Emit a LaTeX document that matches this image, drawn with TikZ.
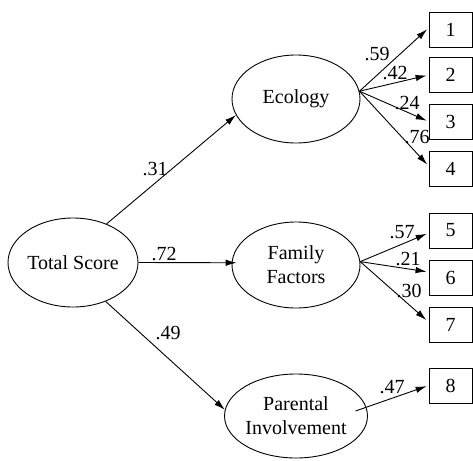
\documentclass[tikz,border=0pt]{standalone}
\usepackage{fontspec}
\setmainfont{Liberation Serif}
\usetikzlibrary{arrows.meta,shapes.geometric}
\begin{document}
\begin{tikzpicture}[x=1pt,y=-1pt,
  txt/.style={font=\fontsize{20}{24}\selectfont},
  latent/.style={ellipse,draw,line width=0.9pt,inner sep=0pt,txt,align=center},
  obs/.style={rectangle,draw,line width=0.9pt,minimum width=43pt,minimum height=35pt,inner sep=0pt,txt},
  lbl/.style={inner sep=0pt,txt},
  arr/.style={line width=0.9pt,-{Latex[length=11pt,width=6.5pt]}}]
\useasboundingbox (0,0) rectangle (473,460);
% latent variables
\node[latent,minimum width=130pt,minimum height=89pt] (T) at (73,262.5) {\raisebox{-2pt}{Total Score}};
\node[latent,minimum width=128pt,minimum height=88pt] (E) at (296,99) {Ecology};
\node[latent,minimum width=128pt,minimum height=86pt] (F) at (296,265) {Family\\Factors};
\node[latent,minimum width=128pt,minimum height=84pt] (P) at (296,416) {Parental\\Involvement};
% observed
\node[obs] (b1) at (450.5,29.5) {1};
\node[obs] (b2) at (450.5,75) {2};
\node[obs] (b3) at (450.5,121.5) {3};
\node[obs] (b4) at (450.5,168.5) {4};
\node[obs] (b5) at (450.5,230.5) {5};
\node[obs] (b6) at (450.5,277.5) {6};
\node[obs] (b7) at (450.5,324.5) {7};
\node[obs] (b8) at (450.5,385.5) {8};
% structural paths
\draw[arr] (T.49) -- (E.195);
\draw[arr,shorten >=-5pt] (T.east) -- (F.178);
\draw[arr] (T.-50) -- (P.175);
% loadings
\draw[arr,shorten >=2pt] (E.7) -- ([yshift=1.5pt]b1.west);
\draw[arr,shorten >=2pt] (E.7) -- (b2.west);
\draw[arr,shorten >=2pt] (E.7) -- (b3.west);
\draw[arr,shorten >=2pt] (E.7) -- ([yshift=2.5pt]b4.west);
\draw[arr,shorten >=2pt] (F.3) -- ([yshift=-2.5pt]b5.west);
\draw[arr,shorten >=2pt] (F.3) -- ([yshift=5.5pt]b6.west);
\draw[arr,shorten >=3pt] (F.3) -- ([yshift=2.5pt]b7.west);
\draw[arr,shorten >=2pt] ([xshift=-12pt]P.4) -- (b8.west);
% coefficients
\node[lbl] (l31) at (155,169) {.31};
\node[lbl] (l72) at (164,254) {.72};
\node[lbl] (l49) at (168,333) {.49};
\node[lbl] (l59) at (377,54) {.59};
\node[lbl] (l42) at (395,73) {.42};
\node[lbl] (l24) at (407,103) {.24};
\node[lbl] (l76) at (417,137) {.76};
\node[lbl] (l57) at (402,232) {.57};
\node[lbl] (l21) at (408,259) {.21};
\node[lbl] (l30) at (409,291) {.30};
\node[lbl] (l47) at (392,387) {.47};
\end{tikzpicture}
\end{document}
